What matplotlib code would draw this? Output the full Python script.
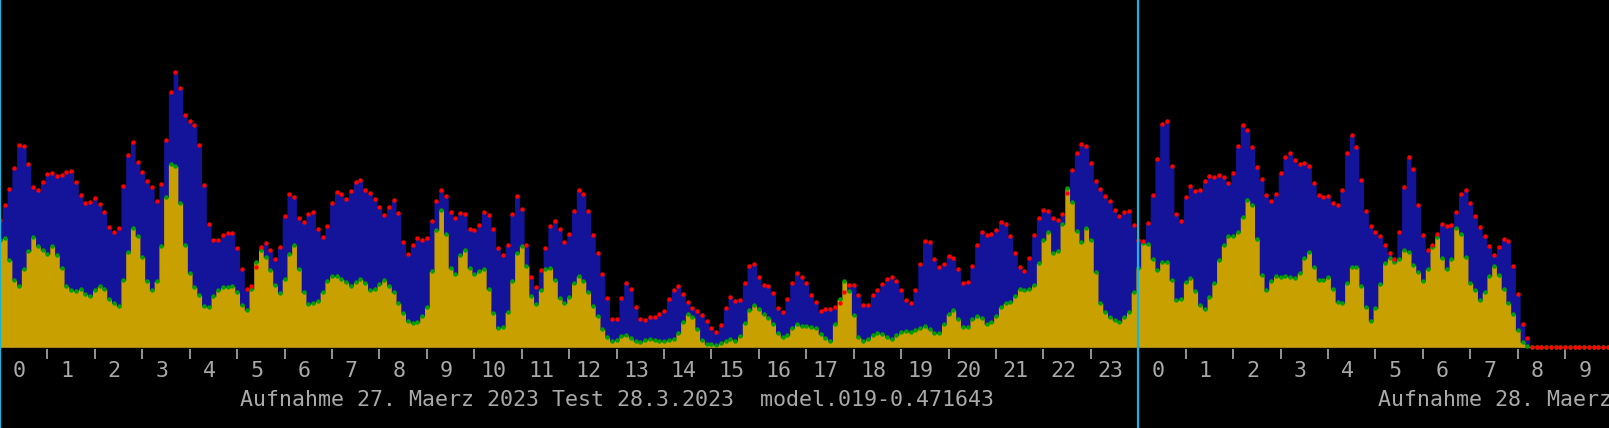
import matplotlib
matplotlib.use("Agg")
import matplotlib.pyplot as plt
import numpy as np

# two days of 6-minute samples (10 per hour), day 1 at 0..24 h, day 2 from 24 h on
total = [
    127, 142, 158, 179, 202, 201, 183, 160, 157, 165, 173, 174, 171, 172, 175, 176, 165, 152, 144, 145,
    149, 143, 135, 120, 115, 119, 161, 192, 205, 185, 175, 166, 160, 146, 163, 207, 255, 275, 259, 232,
    226, 222, 202, 162, 123, 107, 107, 112, 114, 114, 99, 78, 58, 61, 80, 100, 104, 97, 88, 100,
    131, 153, 150, 129, 125, 133, 135, 118, 110, 121, 144, 155, 153, 148, 156, 165, 167, 157, 154, 148,
    140, 132, 140, 147, 134, 105, 93, 102, 109, 107, 109, 126, 146, 157, 151, 135, 129, 134, 133, 118,
    117, 122, 135, 132, 118, 99, 92, 102, 133, 151, 138, 102, 70, 60, 77, 99, 121, 126, 118, 105,
    113, 136, 157, 153, 136, 112, 94, 73, 49, 28, 28, 49, 64, 58, 40, 28, 27, 30, 30, 33,
    36, 48, 57, 61, 53, 45, 39, 36, 32, 26, 19, 15, 22, 39, 50, 46, 47, 64, 81, 83,
    70, 62, 61, 54, 39, 35, 48, 64, 74, 70, 64, 52, 45, 36, 38, 38, 40, 44, 55, 62,
    62, 52, 42, 42, 52, 57, 63, 68, 70, 66, 57, 47, 44, 57, 83, 106, 105, 88, 80, 83,
    91, 89, 78, 64, 65, 81, 102, 115, 112, 113, 117, 125, 123, 111, 94, 80, 76, 89, 112, 129,
    137, 136, 129, 127, 133, 154, 177, 194, 203, 201, 184, 166, 158, 151, 146, 137, 131, 135, 136, 122,
    107, 106, 124, 152, 188, 223, 226, 181, 133, 126, 150, 161, 156, 157, 166, 171, 170, 172, 170, 164,
    174, 201, 222, 217, 200, 180, 168, 152, 146, 153, 174, 190, 194, 187, 183, 184, 181, 164, 152, 150,
    151, 144, 142, 157, 194, 212, 200, 167, 136, 121, 115, 111, 102, 94, 88, 115, 160, 190, 178, 142,
    112, 97, 102, 113, 123, 121, 122, 135, 153, 157, 144, 131, 120, 111, 101, 92, 100, 108, 106, 81,
    53, 23, 9, 0, 0, 0, 0, 0, 0, 0, 0, 0, 0, 0, 0, 0, 0, 0, 0, 0,
]
lower = [
    107, 109, 87, 67, 61, 78, 96, 110, 101, 97, 93, 101, 92, 79, 61, 57, 56, 58, 53, 51,
    57, 61, 58, 48, 44, 41, 67, 95, 119, 111, 90, 66, 57, 66, 101, 150, 183, 181, 144, 102,
    74, 60, 52, 41, 40, 51, 57, 60, 60, 61, 55, 42, 37, 58, 85, 97, 90, 77, 62, 54,
    68, 93, 102, 78, 55, 43, 44, 46, 55, 66, 71, 71, 68, 65, 61, 65, 68, 64, 57, 58,
    63, 67, 61, 55, 44, 34, 26, 24, 25, 31, 40, 76, 117, 137, 113, 79, 73, 92, 97, 79,
    73, 76, 78, 58, 34, 19, 20, 35, 66, 94, 101, 81, 51, 43, 57, 78, 79, 67, 49, 44,
    50, 64, 71, 66, 55, 41, 31, 18, 10, 6, 7, 11, 12, 9, 6, 5, 7, 8, 7, 6,
    6, 7, 8, 14, 25, 33, 30, 18, 7, 3, 3, 2, 4, 6, 8, 6, 11, 24, 37, 42,
    38, 33, 29, 23, 14, 10, 12, 19, 23, 21, 21, 20, 19, 13, 9, 6, 23, 48, 66, 56,
    32, 10, 6, 8, 12, 14, 13, 10, 8, 12, 15, 16, 15, 17, 19, 21, 18, 14, 14, 23,
    33, 37, 28, 20, 20, 28, 31, 29, 23, 25, 31, 40, 44, 45, 51, 58, 57, 58, 62, 84,
    107, 115, 94, 96, 123, 159, 145, 116, 105, 119, 107, 75, 44, 35, 30, 27, 25, 30, 35, 55,
    79, 104, 103, 88, 77, 85, 85, 67, 47, 48, 65, 69, 56, 42, 38, 50, 64, 87, 102, 111,
    111, 115, 130, 147, 142, 108, 72, 57, 66, 71, 70, 71, 70, 69, 74, 89, 95, 80, 67, 67,
    70, 58, 45, 44, 64, 80, 80, 61, 40, 26, 39, 63, 84, 89, 85, 88, 97, 95, 82, 75,
    66, 78, 100, 110, 89, 78, 88, 119, 113, 90, 64, 57, 47, 55, 71, 81, 72, 58, 44, 33,
    17, 5, 1, 0, 0, 0, 0, 0, 0, 0, 0, 0, 0, 0, 0, 0, 0, 0, 0, 0,
]
hour_labels = ['0', '1', '2', '3', '4', '5', '6', '7', '8', '9', '10', '11', '12',
               '13', '14', '15', '16', '17', '18', '19', '20', '21', '22', '23',
               '0', '1', '2', '3', '4', '5', '6', '7', '8', '9']
day_titles = ['Aufnahme 27. Maerz 2023 Test 28.3.2023  model.019-0.471643',
              'Aufnahme 28. Maerz 2023 Test 28.3.2023  model.019-0.471643']
day_starts = [0, 24]

W, H = 1609, 428
PX_PER_HOUR = 47.43
BASE = 349.3  # pixel row of the axis line

BLUE = '#14149a'
YELLOW = '#c8a000'
RED = '#ff0000'
GREEN = '#00a000'
CYAN = '#18b4e0'
GREY = '#bdbdbd'
TEXT = '#a9a9a9'

hours = np.arange(len(total)) * 0.1

fig = plt.figure(figsize=(W / 100, H / 100), dpi=100, facecolor='black')
ax = fig.add_axes([0, 1 - BASE / H, 1, BASE / H])
ax.set_facecolor('black')

ax.fill_between(hours, 0, total, step='mid', color=BLUE, lw=0)
ax.fill_between(hours, 0, lower, step='mid', color=YELLOW, lw=0)

# faint dotted edge under the filled part
last = np.nonzero(np.array(total))[0][-1]
ax.plot([0, hours[last]], [-1.2, -1.2], ls=(0, (1, 1)), lw=0.8, color=YELLOW)

ax.plot(hours, lower, ls='none', marker='o', ms=3.2, mew=0, color=GREEN, clip_on=False)
ax.plot(hours, total, ls='none', marker='o', ms=3.2, mew=0, color=RED, clip_on=False)

ax.set_xlim(0, W / PX_PER_HOUR)
ax.set_ylim(-2, BASE - 2)

for s in ax.spines.values():
    s.set_visible(False)
ax.set_yticks([])
ax.set_xticks(np.arange(1, len(hour_labels)))
ax.set_xticklabels([])
ax.tick_params(axis='x', direction='out', length=7.2, width=1.1, color=GREY)

font = dict(family=['DejaVu Sans Mono'], color=TEXT, fontsize=15.6)
tx = ax.get_xaxis_transform()
for h, lab in enumerate(hour_labels):
    ax.text(h + 0.41, (BASE - 371) / BASE, lab, transform=tx,
            ha='center', va='center', clip_on=False, **font)
for start, title in zip(day_starts, day_titles):
    ax.text(start + 13, (BASE - 399.5) / BASE, title, transform=tx,
            ha='center', va='center', clip_on=False, **font)

for start in day_starts:
    ax.axvline(start, ymin=-(H - BASE) / BASE, ymax=1, color=CYAN, lw=1.6, clip_on=False)

fig.savefig('out.png', dpi=100, facecolor='black')
